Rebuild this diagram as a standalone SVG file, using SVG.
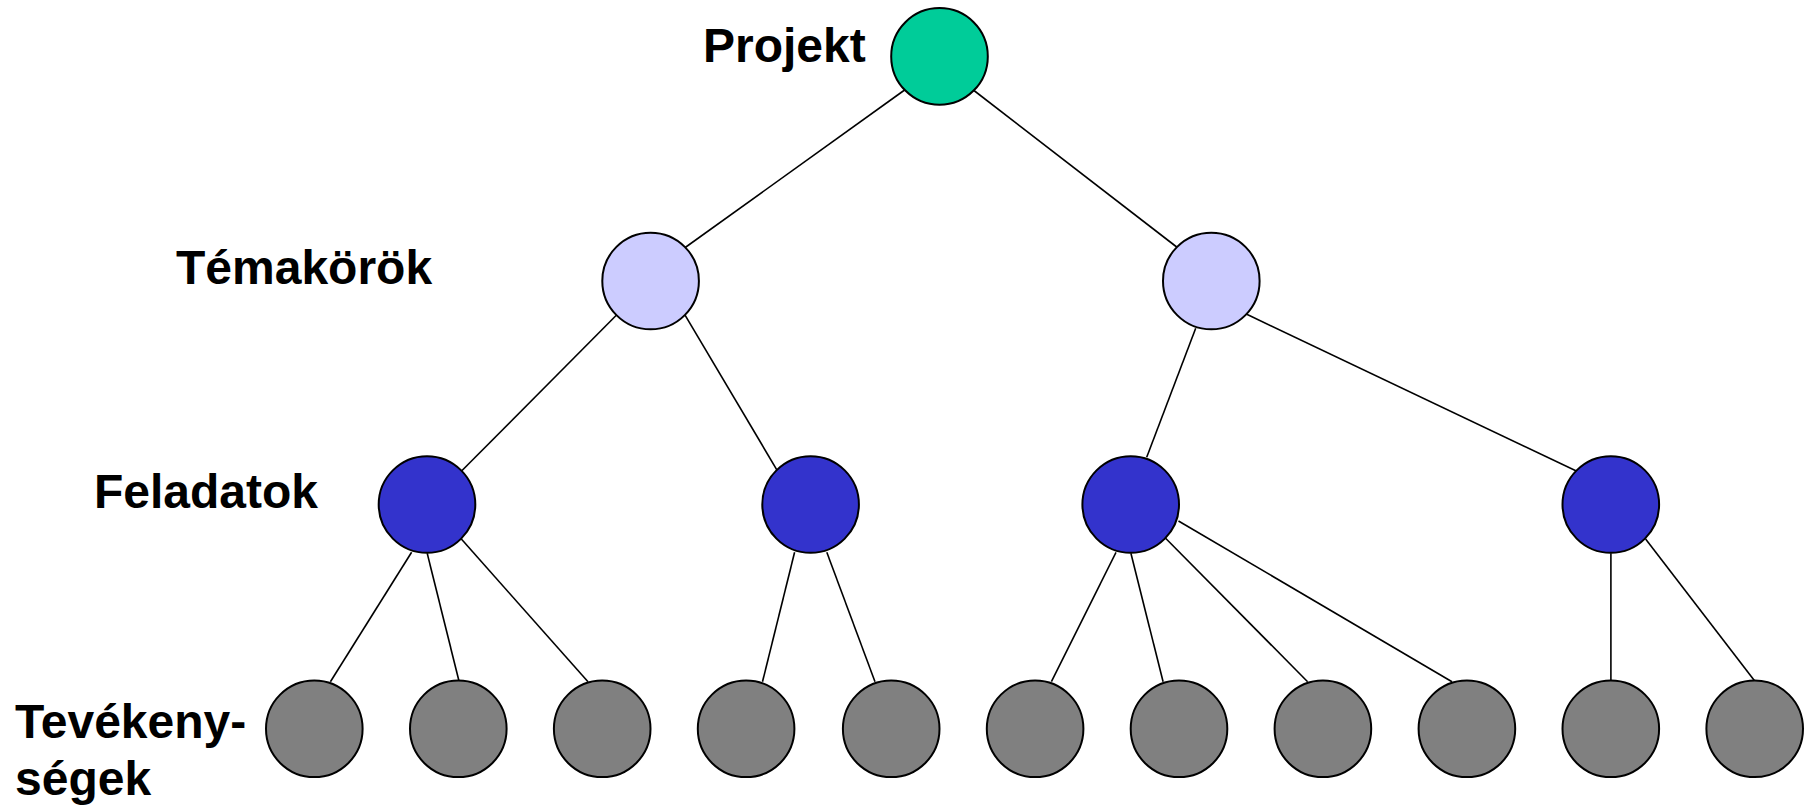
<svg xmlns="http://www.w3.org/2000/svg" width="1805" height="805" viewBox="0 0 1805 805">
<style>
.lbl{font-family:"Liberation Sans",Arial,sans-serif;font-weight:bold;font-size:48px;fill:#000}
.n{stroke:#000;stroke-width:2}
.p{fill:#00CC99}
.t{fill:#CCCCFF}
.f{fill:#3333CC}
.a{fill:#808080}
#connectors line{stroke:#000;stroke-width:1.6}
</style>
<rect width="1805" height="805" fill="#fff"/>
<g id="connectors">
<line x1="906" y1="89" x2="684.5" y2="248"/>
<line x1="972" y1="89" x2="1178" y2="248"/>
<line x1="618.3" y1="313.3" x2="460.3" y2="472.3"/>
<line x1="684" y1="313.3" x2="778.3" y2="472.3"/>
<line x1="1195.7" y1="328.3" x2="1146.7" y2="457.3"/>
<line x1="1244.7" y1="313.3" x2="1579" y2="472.3"/>
<line x1="411.6" y1="552.3" x2="330.4" y2="681.7"/>
<line x1="427.2" y1="553.3" x2="458.9" y2="680.7"/>
<line x1="459.8" y1="537.3" x2="588" y2="681.7"/>
<line x1="794.6" y1="552.3" x2="762.5" y2="681.7"/>
<line x1="826.8" y1="552.3" x2="875" y2="681.7"/>
<line x1="1116" y1="552.3" x2="1051.4" y2="681.7"/>
<line x1="1130.9" y1="553.3" x2="1163.1" y2="681.7"/>
<line x1="1164.6" y1="537.3" x2="1307.6" y2="681.7"/>
<line x1="1178.5" y1="521" x2="1452" y2="681.7"/>
<line x1="1610.9" y1="553.3" x2="1610.9" y2="681.7"/>
<line x1="1645.6" y1="539" x2="1755.3" y2="681.7"/>
</g>
<g id="projekt"><circle class="n p" cx="939.5" cy="56.4" r="48.3"/></g>
<g id="tema1"><circle class="n t" cx="650.6" cy="281" r="48.3"/></g>
<g id="tema2"><circle class="n t" cx="1211.3" cy="281" r="48.3"/></g>
<g id="fel1"><circle class="n f" cx="427" cy="504.5" r="48.3"/></g>
<g id="fel2"><circle class="n f" cx="810.6" cy="504.5" r="48.3"/></g>
<g id="fel3"><circle class="n f" cx="1130.7" cy="504.5" r="48.3"/></g>
<g id="fel4"><circle class="n f" cx="1610.8" cy="504.5" r="48.3"/></g>
<g id="tev1"><circle class="n a" cx="314.3" cy="728.8" r="48.3"/></g>
<g id="tev2"><circle class="n a" cx="458.3" cy="728.8" r="48.3"/></g>
<g id="tev3"><circle class="n a" cx="602.2" cy="728.8" r="48.3"/></g>
<g id="tev4"><circle class="n a" cx="746.1" cy="728.8" r="48.3"/></g>
<g id="tev5"><circle class="n a" cx="891.2" cy="728.8" r="48.3"/></g>
<g id="tev6"><circle class="n a" cx="1035.1" cy="728.8" r="48.3"/></g>
<g id="tev7"><circle class="n a" cx="1179" cy="728.8" r="48.3"/></g>
<g id="tev8"><circle class="n a" cx="1322.9" cy="728.8" r="48.3"/></g>
<g id="tev9"><circle class="n a" cx="1466.9" cy="728.8" r="48.3"/></g>
<g id="tev10"><circle class="n a" cx="1610.8" cy="728.8" r="48.3"/></g>
<g id="tev11"><circle class="n a" cx="1754.7" cy="728.8" r="48.3"/></g>
<g id="labels">
<text class="lbl" x="703" y="62">Projekt</text>
<text class="lbl" x="176" y="284">Témakörök</text>
<text class="lbl" x="94" y="508">Feladatok</text>
<text class="lbl" x="15" y="738">Tevékeny-</text>
<text class="lbl" x="15" y="795">ségek</text>
</g>
</svg>
